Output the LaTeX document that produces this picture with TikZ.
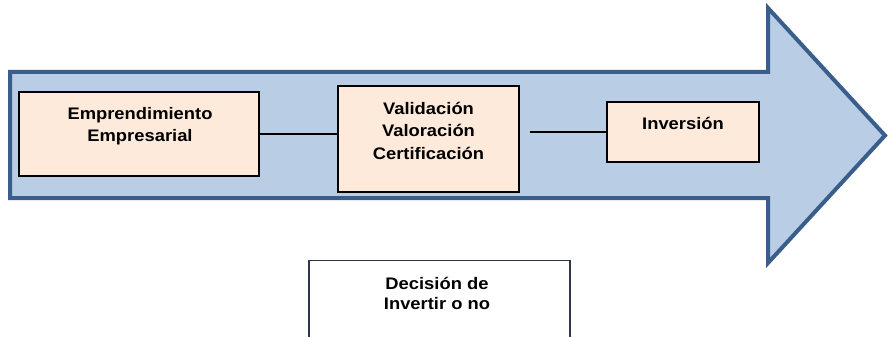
\documentclass[tikz,border=0pt]{standalone}
\usepackage{fontspec}
\newfontfamily\lab{Liberation Sans}[FakeStretch=1.1]
\definecolor{arrowline}{RGB}{58,94,140}
\definecolor{arrowfill}{RGB}{185,205,229}
\definecolor{boxfill}{RGB}{253,234,218}
\definecolor{decline}{RGB}{45,55,75}
\begin{document}
\begin{tikzpicture}[x=1pt,y=-1pt,
  procbox/.style={draw=black,line width=1.3pt,fill=boxfill,inner sep=0pt,rectangle},
  boxtext/.style={anchor=north,inner sep=0pt,align=center,font=\lab\fontsize{16.7}{22.5}\selectfont\bfseries},
  conn/.style={draw=black,line width=1.4pt}]
\clip (0,0) rectangle (889,337);
\fill[white] (0,0) rectangle (889,337);
% big arrow
\draw[arrowline,fill=arrowfill,line width=4pt,line join=miter]
  (10,72) -- (768,72) -- (768,8) -- (885,135.5) -- (768,263) -- (768,198) -- (10,198) -- cycle;
% boxes
\node[procbox,minimum width=240pt,minimum height=84pt] (b1) at (139,134) {};
\node[procbox,minimum width=181pt,minimum height=106pt] (b2) at (428.5,139) {};
\node[procbox,minimum width=152pt,minimum height=60pt] (b3) at (683,132) {};
\node[boxtext] (t1) at (140,107) {Emprendimiento\\Empresarial};
\node[boxtext] (t2) at (428.5,102) {Validación\\Valoración\\Certificación};
\node[boxtext] (t3) at (683,117) {Inversión};
% decision box (cut off at bottom)
\node[draw=decline,line width=1.3pt,fill=white,minimum width=261pt,minimum height=120pt,anchor=north,inner sep=0pt] (b4) at (439.5,260) {};
\node[boxtext,font=\lab\fontsize{16.7}{20}\selectfont\bfseries] (t4) at (437,277) {Decisión de\\Invertir o no};
% connectors
\draw[conn] (b1.east) -- (b2.west |- b1.east);
\coordinate (c2) at ([xshift=10pt]b2.east |- b3.west);
\draw[conn] (c2) -- (b3.west);
\end{tikzpicture}
\end{document}
